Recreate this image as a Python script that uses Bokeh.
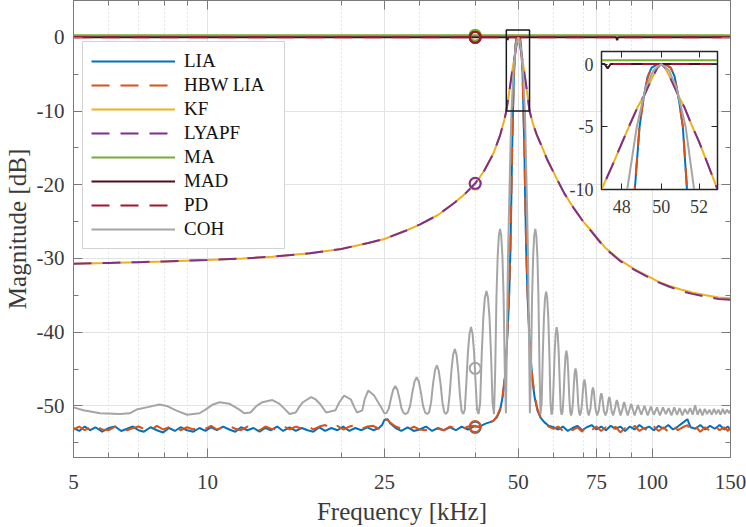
from bokeh.plotting import figure
from bokeh.models import (FixedTicker, LinearAxis, LogAxis, Legend, LegendItem,
                          PrintfTickFormatter, CustomJSTickFormatter, Range1d)
from bokeh.layouts import column
from bokeh.embed import file_html
from bokeh.resources import INLINE

FONT = "Liberation Serif"

# ---------------- data ----------------
X_TICKS = [5, 10, 25, 50, 75, 100, 150]
X_MINOR = [6, 7, 8, 9, 20, 30, 40, 60, 70, 80, 90]
Y_TICKS = [-50, -40, -30, -20, -10, 0]
Y_MINOR = [-55, -45, -35, -25, -15, -5]
INSET_X_TICKS = [48, 50, 52]
INSET_Y_TICKS = [-10, -5, 0]
ZOOM_F = [47, 53]
ZOOM_DB = [-10, 1]

NAMES = ["LIA", "HBW LIA", "KF", "LYAPF", "MA", "MAD", "PD", "COH"]
COLORS = ["#0072BD", "#D95319", "#EDB120", "#7E2F8E", "#77AC30", "#4A0E1C", "#A2142F", "#A5A5A5"]
DASHED = [False, True, False, True, False, False, True, False]

# frequency grid shared by the LIA and HBW LIA traces [kHz]
F_LIA = [
    5.0, 5.15, 5.3, 5.45, 5.6, 5.8, 6.0, 6.2, 6.4, 6.6,
    6.8, 7.0, 7.2, 7.45, 7.7, 7.95, 8.2, 8.45, 8.7, 9.0,
    9.3, 9.6, 9.9, 10.2, 10.5, 10.85, 11.2, 11.55, 11.9, 12.3,
    12.7, 13.1, 13.5, 13.9, 14.35, 14.8, 15.3, 15.8, 16.3, 16.8,
    17.3, 17.85, 18.4, 19.0, 19.6, 20.2, 20.85, 21.5, 22.2, 22.9,
    23.6, 24.3, 24.7, 25.0, 25.4, 25.8, 26.5, 27.3, 28.2, 29.1,
    30.0, 31.0, 32.0, 33.0, 34.0, 35.1, 36.2, 37.3, 38.5, 39.7,
    40.9, 42.2, 43.2, 44.0, 44.8, 45.5, 46.1, 46.6, 47.0, 47.35,
    47.7, 48.0, 48.25, 48.45, 48.65, 48.89, 49.1, 49.3, 49.5, 49.8,
    50.0, 50.2, 50.5, 50.7, 50.9, 51.13, 51.35, 51.6, 51.8, 52.1,
    52.45, 52.85, 53.25, 53.8, 54.4, 55.2, 56.1, 57.2, 58.5, 60.0,
    61.5, 63.0, 64.6, 66.2, 67.9, 69.6, 71.3, 73.1, 74.9, 76.8,
    78.7, 80.7, 82.7, 84.8, 86.9, 89.1, 91.3, 93.6, 96.0, 98.4,
    100.9, 103.4, 106.0, 108.7, 111.4, 114.2, 117.1, 120.0, 122.0, 125.1,
    128.3, 131.6, 134.9, 138.3, 141.8, 145.4, 148.0, 150.0,
]
LIA_DB = [
    -53.0, -53.4, -52.8, -53.3, -52.9, -53.5, -53.0, -52.8, -53.4, -53.1,
    -52.8, -53.3, -53.5, -52.9, -53.3, -53.6, -53.0, -53.4, -52.9, -53.3,
    -53.5, -53.0, -53.4, -52.9, -53.3, -52.8, -53.2, -53.5, -52.9, -53.3,
    -53.0, -53.5, -53.0, -53.3, -52.8, -53.4, -52.9, -53.4, -53.0, -53.3,
    -53.5, -52.9, -53.4, -53.0, -53.3, -52.8, -53.4, -53.0, -53.3, -52.9,
    -53.3, -53.0, -52.6, -51.9, -51.8, -52.4, -53.0, -53.4, -52.9, -53.4,
    -53.2, -52.8, -53.4, -53.0, -53.3, -52.9, -53.3, -52.8, -53.2, -52.8,
    -52.8, -52.4, -52.2, -52.0, -51.5, -50.6, -48.8, -46.5, -43.0, -39.5,
    -35.0, -29.0, -21.5, -15.0, -10.0, -5.0, -2.6, -1.0, -0.3, 0.0,
    0.0, 0.0, -0.3, -1.0, -2.6, -5.0, -10.0, -15.0, -21.5, -29.0,
    -35.0, -39.5, -43.0, -46.5, -48.8, -50.6, -51.6, -52.2, -52.7, -52.9,
    -53.2, -52.8, -53.4, -53.0, -52.7, -53.3, -52.9, -52.6, -53.2, -52.8,
    -53.3, -52.7, -53.1, -52.8, -53.4, -52.8, -53.2, -52.6, -53.1, -52.8,
    -53.3, -52.7, -53.1, -52.6, -53.2, -52.8, -52.3, -51.8, -52.9, -53.1,
    -52.6, -53.2, -52.7, -53.1, -52.6, -53.2, -52.8, -53.3,
]
HBW_DB = [
    -53.2, -52.8, -53.3, -52.9, -52.7, -53.2, -53.3, -52.8, -53.0, -53.3,
    -53.0, -52.8, -53.1, -53.3, -52.7, -53.2, -52.9, -52.7, -53.3, -52.9,
    -53.2, -52.8, -53.1, -52.7, -53.2, -52.9, -52.7, -53.1, -53.3, -52.8,
    -53.1, -53.3, -52.8, -53.1, -53.2, -52.7, -53.2, -52.8, -53.1, -52.7,
    -53.2, -52.8, -52.6, -53.1, -52.7, -53.2, -52.8, -52.6, -53.1, -52.8,
    -52.7, -53.1, -52.4, -51.8, -51.9, -52.3, -52.8, -53.1, -53.3, -52.8,
    -53.2, -53.3, -52.8, -53.1, -53.3, -52.8, -53.1, -53.2, -52.8, -52.7,
    -52.9, -52.6, -52.3, -52.0, -51.4, -50.4, -48.6, -46.2, -42.6, -39.0,
    -34.5, -28.5, -21.0, -14.6, -9.8, -4.9, -2.7, -1.1, -0.3, 0.0,
    0.0, 0.0, -0.3, -1.1, -2.7, -4.9, -9.8, -14.6, -21.0, -28.5,
    -34.5, -39.0, -42.6, -46.2, -48.6, -50.4, -51.5, -52.3, -52.8, -53.1,
    -52.8, -53.4, -52.8, -53.3, -52.9, -53.5, -52.7, -53.3, -52.8, -53.4,
    -52.9, -53.6, -52.8, -53.6, -53.0, -53.5, -52.7, -53.4, -53.0, -53.6,
    -52.8, -53.4, -52.9, -53.5, -52.7, -53.3, -52.9, -52.6, -53.4, -52.8,
    -53.5, -52.9, -53.4, -52.7, -53.3, -52.9, -53.4, -52.8,
]

KF = [
    (5, -30.7), (6, -30.6), (7, -30.5), (8, -30.4), (10, -30.2), (12, -30.0),
    (14, -29.75), (17, -29.3), (20, -28.7), (23, -27.9), (25, -27.35), (28, -26.2),
    (30, -25.4), (33, -24.1), (36, -22.4), (38, -21.2), (40, -19.9), (42, -18.0),
    (44, -15.7), (45.5, -13.3), (46.5, -11.2), (47.0, -10.0), (47.5, -8.2), (48.0, -6.3),
    (48.35, -5.0), (48.8, -3.4), (49.13, -2.5), (49.5, -1.2), (49.8, -0.3), (50.0, 0.0),
    (50.2, -0.3), (50.5, -1.2), (50.89, -2.5), (51.2, -3.4), (51.64, -5.0), (52.0, -6.2),
    (52.5, -8.1), (53.0, -10.0), (54.0, -11.8), (55.0, -13.2), (56.2, -14.5), (58.0, -16.5),
    (60.8, -19.0), (63.5, -21.2), (66.5, -23.1), (70, -25.0), (72.9, -26.2), (78.3, -28.5),
    (85, -30.3), (91, -31.4), (97, -32.3), (103, -33.1), (109, -33.7), (116, -34.2),
    (123, -34.6), (132, -35.0), (141, -35.3), (150, -35.4),
]
LYAPF = [
    (5, -30.7), (6, -30.6), (7, -30.5), (8, -30.4), (10, -30.2), (12, -30.0),
    (14, -29.75), (17, -29.3), (20, -28.7), (23, -27.9), (25, -27.35), (28, -26.2),
    (30, -25.4), (33, -24.1), (36, -22.4), (38, -21.2), (40, -19.8), (42, -18.0),
    (44, -15.7), (45.5, -13.3), (46.5, -11.2), (47.0, -10.0), (47.5, -8.2), (48.0, -6.3),
    (48.35, -5.0), (48.8, -3.4), (49.13, -2.5), (49.5, -1.2), (49.8, -0.3), (50.0, 0.0),
    (50.2, -0.3), (50.5, -1.2), (50.89, -2.5), (51.2, -3.4), (51.64, -5.0), (52.0, -6.2),
    (52.5, -8.1), (53.0, -10.0), (54.0, -11.8), (55.0, -13.2), (56.2, -14.5), (58.0, -16.5),
    (60.8, -19.0), (63.5, -21.2), (66.5, -23.1), (70, -25.0), (72.9, -26.3), (78.3, -28.6),
    (85, -30.4), (91, -31.5), (97, -32.4), (103, -33.2), (109, -33.8), (116, -34.4),
    (123, -34.8), (132, -35.2), (141, -35.5), (150, -35.6),
]
MA = [(5, 0.3), (150, 0.3)]
MAD = [(5, 0.0), (47.15, 0.0), (47.3, -0.35), (47.45, 0.0), (83.0, 0.0), (83.4, -0.4), (83.8, 0.0), (150, 0.0)]
PD = [(5, 0.0), (150, 0.0)]

COH = [
    # slow ripple below 25 kHz
    (5.0, -50.2), (5.26, -50.6), (5.74, -51.0), (6.36, -51.1), (6.69, -51.0), (6.93, -50.5),
    (7.3, -50.2), (7.8, -49.8), (8.1, -50.0), (8.5, -50.6), (9.0, -51.2), (9.6, -51.0),
    (9.9, -50.5), (10.3, -49.8), (10.65, -49.5), (11.2, -49.7), (11.8, -50.5), (12.1, -51.0),
    (12.5, -50.9), (12.9, -50.0), (13.3, -49.5), (14.0, -49.2), (14.5, -49.7), (14.8, -50.2),
    (15.3, -51.1), (15.8, -50.9), (16.1, -50.1), (16.4, -49.5), (17.1, -48.8), (17.5, -49.1),
    (17.9, -49.7), (18.5, -50.9), (19.4, -50.6), (19.8, -49.5), (20.3, -48.6), (21.0, -49.1),
    (21.4, -50.2), (21.7, -50.9), (22.3, -50.6), (22.6, -49.0), (23.0, -47.9), (23.7, -48.6),
    (24.2, -49.5), (24.7, -50.4), (25.0, -51.0),
    # side lobes left of the carrier
    (25.29, -50.95), (25.58, -50.35), (25.87, -49.0), (26.16, -47.8), (26.45, -47.3),
    (26.74, -47.8), (27.03, -49.0), (27.32, -50.35), (27.61, -50.95), (27.9, -51.1),
    (28.23, -50.9), (28.56, -50.0), (28.89, -48.2), (29.22, -46.7), (29.55, -46.1),
    (29.88, -46.7), (30.21, -48.2), (30.54, -50.0), (30.87, -50.9), (31.2, -51.1),
    (31.52, -50.85), (31.84, -49.5), (32.16, -47.0), (32.48, -45.2), (32.8, -44.5),
    (33.12, -45.2), (33.44, -47.0), (33.76, -49.5), (34.08, -50.85), (34.4, -51.1),
    (34.72, -50.7), (35.04, -48.5), (35.36, -45.3), (35.68, -43.05), (36.0, -42.3),
    (36.32, -43.05), (36.64, -45.3), (36.96, -48.5), (37.28, -50.7), (37.6, -51.1),
    (37.91, -50.5), (38.22, -46.8), (38.53, -42.7), (38.84, -40.2), (39.15, -39.3),
    (39.46, -40.2), (39.77, -42.7), (40.08, -46.8), (40.39, -50.5), (40.7, -51.1),
    (41.04, -49.6), (41.38, -43.0), (41.72, -38.0), (42.06, -35.3), (42.4, -34.4),
    (42.74, -35.3), (43.08, -38.0), (43.42, -43.0), (43.76, -49.6), (44.1, -51.1),
    (44.38, -44.9), (44.66, -35.2), (44.94, -29.7), (45.22, -26.9), (45.5, -26.0),
    (45.78, -26.9), (46.06, -29.7), (46.34, -35.2), (46.62, -44.9), (46.9, -51.0),
    # main lobe
    (47.15, -41.0), (47.4, -30.0), (47.7, -22.5), (48.0, -15.5), (48.25, -10.2), (48.75, -5.0),
    (49.2, -1.9), (49.6, -0.5), (50.0, 0.0), (50.4, -0.5), (50.8, -1.9), (51.28, -5.0),
    (51.75, -10.2), (52.0, -15.5), (52.3, -22.5), (52.6, -30.0), (52.85, -41.0), (53.1, -51.0),
    # side lobes right of the carrier
    (53.4, -44.9), (53.7, -35.2), (54.0, -29.7), (54.3, -26.9), (54.6, -26.0),
    (54.9, -26.9), (55.2, -29.7), (55.5, -35.2), (55.8, -44.9), (56.1, -51.1),
    (56.43, -49.6), (56.76, -43.1), (57.09, -38.1), (57.42, -35.4), (57.75, -34.5),
    (58.08, -35.4), (58.41, -38.1), (58.74, -43.1), (59.07, -49.6), (59.4, -51.2),
    (59.72, -50.5), (60.04, -46.8), (60.36, -42.7), (60.68, -40.2), (61.0, -39.3),
    (61.32, -40.2), (61.64, -42.7), (61.96, -46.8), (62.28, -50.5), (62.6, -51.2),
    (62.91, -50.7), (63.22, -48.6), (63.53, -45.5), (63.84, -43.25), (64.15, -42.5),
    (64.46, -43.25), (64.77, -45.5), (65.08, -48.6), (65.39, -50.7), (65.7, -51.3),
    (66.01, -50.9), (66.32, -49.65), (66.63, -47.35), (66.94, -45.55), (67.25, -44.9),
    (67.56, -45.55), (67.87, -47.35), (68.18, -49.65), (68.49, -50.9), (68.8, -51.3),
    (69.12, -50.9), (69.44, -50.1), (69.76, -48.45), (70.08, -46.95), (70.4, -46.4),
    (70.72, -46.95), (71.04, -48.45), (71.36, -50.1), (71.68, -50.9), (72.0, -51.3),
    (72.64, -50.4), (72.96, -49.2), (73.28, -48.0), (73.6, -47.5), (73.92, -48.0),
    (74.24, -49.2), (74.56, -50.4), (75.2, -51.3),
    (75.86, -50.6), (76.19, -49.65), (76.52, -48.7), (76.85, -48.3), (77.18, -48.7),
    (77.51, -49.65), (77.84, -50.6), (78.5, -51.3),
    (79.14, -50.7), (79.46, -49.95), (79.78, -49.15), (80.1, -48.8), (80.42, -49.15),
    (80.74, -49.95), (81.06, -50.7), (81.7, -51.3),
    (82.66, -50.1), (82.98, -49.5), (83.3, -49.2), (83.62, -49.5), (83.94, -50.1), (84.9, -51.3),
    (85.86, -50.3), (86.18, -49.75), (86.5, -49.5), (86.82, -49.75), (87.14, -50.3), (88.1, -51.3),
    (89.7, -49.7), (91.3, -51.3), (92.9, -49.9), (94.5, -51.2), (96.1, -50.0), (97.7, -51.3),
    (99.3, -50.1), (100.9, -51.2), (102.5, -50.2), (104.1, -51.3), (105.7, -50.2), (107.3, -51.1),
    (108.9, -50.3), (110.5, -51.3), (112.1, -50.2), (113.7, -51.2), (115.3, -50.3), (116.9, -51.3),
    (118.5, -50.4), (120.1, -51.1), (121.7, -50.3), (123.3, -51.2), (124.9, -49.9), (126.5, -51.2),
    (128.1, -50.4), (129.7, -51.3), (131.3, -50.4), (132.9, -51.1), (134.5, -50.5), (136.1, -51.2),
    (137.7, -50.4), (139.3, -51.1), (140.9, -50.5), (142.5, -51.2), (144.1, -50.4), (145.7, -51.1),
    (147.3, -50.5), (148.9, -51.0), (150.0, -50.6),
]

# values marked with circles at 40 kHz, one per series (same order as NAMES)
MARK_F = 40
MARK_DB = [-52.9, -52.8, -19.9, -19.8, 0.3, 0.0, 0.0, -44.9]


def xy(pairs):
    return [a for a, _ in pairs], [b for _, b in pairs]


SERIES = [
    (F_LIA, LIA_DB),
    (F_LIA, HBW_DB),
    xy(KF),
    xy(LYAPF),
    xy(MA),
    xy(MAD),
    xy(PD),
    xy(COH),
]

AX_COL = "#7a7a7a"
LBL_COL = "#3a3a3a"
DASH = "18 11"

# ---------------- main figure ----------------
p = figure(width=746, height=527, x_axis_type="log",
           x_range=Range1d(5, 150), y_range=Range1d(-57, 5),
           output_backend="svg", toolbar_location=None,
           min_border_left=0, min_border_right=16, min_border_top=0, min_border_bottom=0,
           background_fill_color="white", border_fill_color="white")
p.outline_line_color = AX_COL

xax = p.below[0]
xax.ticker = FixedTicker(ticks=X_TICKS, minor_ticks=X_MINOR)
xax.formatter = PrintfTickFormatter(format="%d")
xax.axis_label = "Frequency [kHz]"
yax = p.left[0]
yax.ticker = FixedTicker(ticks=Y_TICKS, minor_ticks=Y_MINOR)
yax.formatter = PrintfTickFormatter(format="%d")
yax.axis_label = "Magnitude [dB]"
for ax in (xax, yax):
    ax.axis_label_text_font = FONT
    ax.axis_label_text_font_size = "25px"
    ax.axis_label_text_font_style = "normal"
    ax.axis_label_text_color = LBL_COL
    ax.major_label_text_font = FONT
    ax.major_label_text_font_size = "21px"
    ax.major_label_text_color = LBL_COL
    ax.axis_line_color = AX_COL
    ax.major_tick_line_color = AX_COL
    ax.minor_tick_line_color = AX_COL
    ax.major_tick_in = 9
    ax.major_tick_out = 0
    ax.minor_tick_in = 5
    ax.minor_tick_out = 0
xax.major_label_standoff = 17
xax.axis_label_standoff = 6
yax.major_label_standoff = 9
yax.axis_label_standoff = 3

blank = CustomJSTickFormatter(code="return ''")
top_ax = LogAxis(ticker=FixedTicker(ticks=X_TICKS, minor_ticks=X_MINOR), formatter=blank,
                 major_label_text_font_size="0px", major_label_standoff=0,
                 major_tick_in=9, major_tick_out=0, minor_tick_in=5, minor_tick_out=0,
                 axis_line_color=AX_COL, major_tick_line_color=AX_COL, minor_tick_line_color=AX_COL)
right_ax = LinearAxis(ticker=FixedTicker(ticks=Y_TICKS, minor_ticks=Y_MINOR), formatter=blank,
                      major_label_text_font_size="0px", major_label_standoff=0,
                      major_tick_in=9, major_tick_out=0, minor_tick_in=5, minor_tick_out=0,
                      axis_line_color=AX_COL, major_tick_line_color=AX_COL, minor_tick_line_color=AX_COL)
p.add_layout(top_ax, "above")
p.add_layout(right_ax, "right")

p.xgrid.grid_line_color = "#e3e3e3"
p.xgrid.minor_grid_line_color = "#cfcfcf"
p.xgrid.minor_grid_line_dash = "1 3"
p.ygrid.grid_line_color = "#e3e3e3"

renderers = []
for (fx, fy), col, dashed in zip(SERIES, COLORS, DASHED):
    r = p.line(fx, fy, line_color=col, line_width=2, line_dash=DASH if dashed else "solid")
    renderers.append(r)

for col, v in zip(COLORS, MARK_DB):
    p.scatter([MARK_F], [v], marker="circle", size=11, fill_alpha=0, line_color=col, line_width=2)

p.quad(left=[ZOOM_F[0]], right=[ZOOM_F[1]], bottom=[ZOOM_DB[0]], top=[ZOOM_DB[1]],
       fill_alpha=0, line_color="#1a1a1a", line_width=1.5)

legend = Legend(items=[LegendItem(label=n, renderers=[r]) for n, r in zip(NAMES, renderers)],
                location=(9, 208), margin=0, padding=8, spacing=2,
                glyph_width=84, glyph_height=22, label_height=22, label_width=92, label_standoff=9,
                label_text_font=FONT, label_text_font_size="19px", label_text_color="#111111",
                border_line_color="#a8a8a8", border_line_width=1,
                background_fill_color="white", background_fill_alpha=1)
p.add_layout(legend, "center")

# ---------------- inset ----------------
# (the column aligns the inset's side borders with the main plot's: ~73 px left, ~17 px right)
ins = figure(width=205, height=175, x_axis_type="log",
             x_range=Range1d(ZOOM_F[0], ZOOM_F[1]), y_range=Range1d(ZOOM_DB[0], ZOOM_DB[1]),
             output_backend="svg", toolbar_location=None,
             min_border_left=42, min_border_right=3, min_border_top=2, min_border_bottom=35,
             background_fill_color="white", border_fill_alpha=0)
ins.xgrid.visible = False
ins.ygrid.visible = False
ins.outline_line_color = "#262626"
ins.outline_line_width = 1.5
ix = ins.below[0]
ix.ticker = FixedTicker(ticks=INSET_X_TICKS)
ix.formatter = PrintfTickFormatter(format="%d")
iy = ins.left[0]
iy.ticker = FixedTicker(ticks=INSET_Y_TICKS)
iy.formatter = PrintfTickFormatter(format="%d")
for ax in (ix, iy):
    ax.axis_label = None
    ax.major_label_text_font = FONT
    ax.major_label_text_font_size = "18px"
    ax.major_label_text_color = LBL_COL
    ax.axis_line_color = "#262626"
    ax.major_tick_line_color = "#262626"
    ax.major_tick_in = 6
    ax.major_tick_out = 0
    ax.minor_tick_line_color = None
ix.major_label_standoff = 10
iy.major_label_standoff = 8
ins_top = LogAxis(ticker=FixedTicker(ticks=INSET_X_TICKS), formatter=blank,
                  major_label_text_font_size="0px", major_label_standoff=0,
                  major_tick_in=6, major_tick_out=0, minor_tick_line_color=None,
                  axis_line_color="#262626", major_tick_line_color="#262626")
ins_right = LinearAxis(ticker=FixedTicker(ticks=INSET_Y_TICKS), formatter=blank,
                       major_label_text_font_size="0px", major_label_standoff=0,
                       major_tick_in=6, major_tick_out=0, minor_tick_line_color=None,
                       axis_line_color="#262626", major_tick_line_color="#262626")
ins.add_layout(ins_top, "above")
ins.add_layout(ins_right, "right")

for (fx, fy), col, dashed in zip(SERIES, COLORS, DASHED):
    ins.line(fx, fy, line_color=col, line_width=2, line_dash=DASH if dashed else "solid")

ins.styles = {"position": "absolute", "left": "528px", "top": "49px"}

layout = column(p, ins, styles={"position": "relative"})
open("out.html", "w").write(file_html(layout, INLINE))
